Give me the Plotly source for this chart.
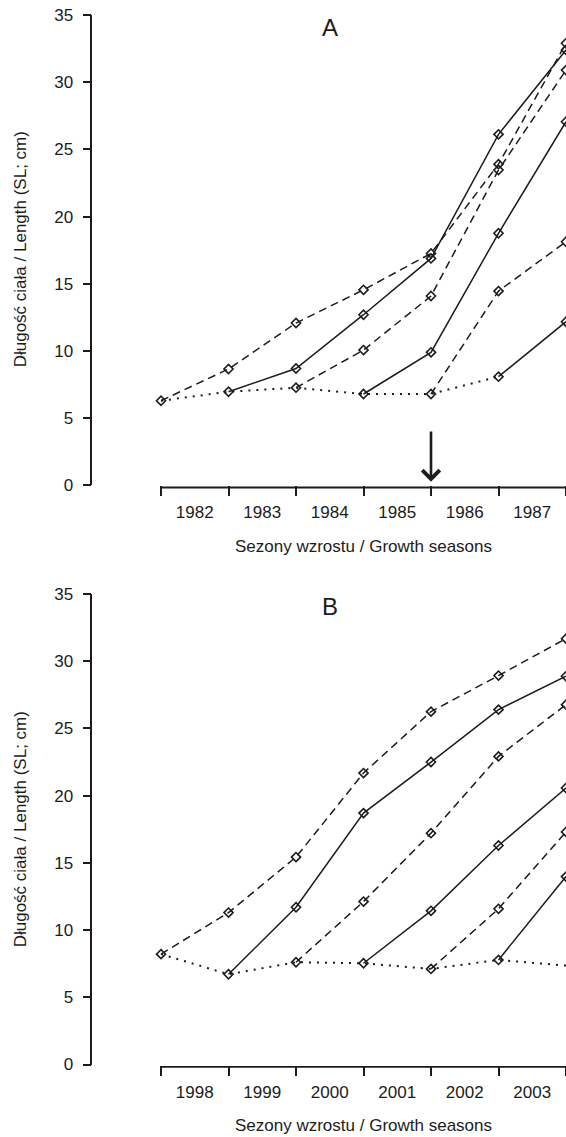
import plotly.graph_objects as go

# growth seasons: tick marks sit on the season boundaries, labels in between
season_ends = [0, 1, 2, 3, 4, 5, 6]
label_pos = [0.5, 1.5, 2.5, 3.5, 4.5, 5.5]
years_a = ["1982", "1983", "1984", "1985", "1986", "1987"]
years_b = ["1998", "1999", "2000", "2001", "2002", "2003"]
y_ticks = [0, 5, 10, 15, 20, 25, 30, 35]

# panel A - length (SL, cm) reached by each cohort at the end of each season
a_first_year = [6.3, 6.97, 7.27, 6.8, 6.8, 8.09]
a_cohort_1 = [6.3, 8.66, 12.08, 14.55, 17.26, 23.9, 32.9]
a_cohort_2 = [6.97, 8.7, 12.7, 16.89, 26.12, 32.4]
a_cohort_3 = [7.27, 10.07, 14.09, 23.47, 30.9]
a_cohort_4 = [6.8, 9.9, 18.76, 27.06]
a_cohort_5 = [6.8, 14.46, 18.13]
a_cohort_6 = [8.09, 12.18]

# panel B
b_first_year = [8.21, 6.71, 7.61, 7.53, 7.11, 7.78, 7.36]
b_cohort_1 = [8.21, 11.3, 15.43, 21.68, 26.25, 28.93, 31.68]
b_cohort_2 = [6.71, 11.7, 18.7, 22.5, 26.4, 28.88]
b_cohort_3 = [7.61, 12.12, 17.21, 22.92, 26.77]
b_cohort_4 = [7.53, 11.43, 16.29, 20.57]
b_cohort_5 = [7.11, 11.58, 17.3]
b_cohort_6 = [7.78, 13.98]

INK = "#1c1c1c"
FONT = "Liberation Sans, Arial, sans-serif"
W, H = 566, 1137


def add_panel(fig, first_year, cohorts, xa, ya):
    fig.add_trace(go.Scatter(
        x=season_ends[:len(first_year)], y=first_year, xaxis=xa, yaxis=ya,
        mode="lines", line=dict(color=INK, width=2, dash="2px,6px"),
        showlegend=False, hoverinfo="skip", cliponaxis=False))
    for i, values in enumerate(cohorts):
        dash = "8px,5px" if i % 2 == 0 else "solid"
        fig.add_trace(go.Scatter(
            x=season_ends[i:i + len(values)], y=values, xaxis=xa, yaxis=ya,
            mode="lines+markers",
            line=dict(color=INK, width=1.5, dash=dash),
            marker=dict(symbol="diamond-open", size=7, color=INK, line=dict(width=1.6)),
            showlegend=False, cliponaxis=False))


fig = go.Figure()
add_panel(fig, a_first_year,
          [a_cohort_1, a_cohort_2, a_cohort_3, a_cohort_4, a_cohort_5, a_cohort_6], "x", "y")
add_panel(fig, b_first_year,
          [b_cohort_1, b_cohort_2, b_cohort_3, b_cohort_4, b_cohort_5, b_cohort_6], "x2", "y2")

x_left = 92.3 / W
dom_a = [1 - 485.4 / H, 1 - 15 / H]
dom_b = [1 - 1064.5 / H, 1 - 594 / H]


def x_axis(anchor, labels):
    return dict(
        domain=[x_left, 1], range=[-1.018, 6.0], anchor=anchor,
        tickmode="array", tickvals=label_pos, ticktext=labels, ticks="",
        showline=False, showgrid=False, zeroline=False, automargin=False,
        ticklabelstandoff=15,
        tickfont=dict(family=FONT, size=17, color=INK),
        minor=dict(tickmode="array", tickvals=season_ends, ticks="outside",
                   ticklen=10, tickwidth=1.6, tickcolor=INK, showgrid=False),
    )


def y_axis(anchor, dom):
    return dict(
        domain=dom, range=[0, 35], anchor=anchor,
        tickmode="array", tickvals=y_ticks, ticks="outside", ticklen=8,
        tickwidth=1.6, tickcolor=INK, showline=True, linewidth=1.6, linecolor=INK,
        showgrid=False, zeroline=False, automargin=False, ticklabelstandoff=6,
        tickfont=dict(family=FONT, size=17, color=INK),
    )


fig.update_layout(
    width=W, height=H, margin=dict(l=0, r=0, t=0, b=0),
    plot_bgcolor="white", paper_bgcolor="white",
    xaxis=x_axis("y", years_a), yaxis=y_axis("x", dom_a),
    xaxis2=x_axis("y2", years_b), yaxis2=y_axis("x2", dom_b),
    font=dict(family=FONT, color=INK),
)

# x axis lines only run over the season boundaries, just below the zero level
for xr, line_px in (("x", 487.5), ("x2", 1066.8)):
    fig.add_shape(type="line", xref=xr, yref="paper", x0=season_ends[0], x1=season_ends[-1],
                  y0=1 - line_px / H, y1=1 - line_px / H, line=dict(color=INK, width=1.8))

ytitle = "Długość ciała / Length (SL; cm)"
xtitle = "Sezony wzrostu / Growth seasons"
for xr, yr, letter, ymid, xt_y in (("x", "y", "A", 249.5, 546), ("x2", "y2", "B", 829.5, 1125)):
    fig.add_annotation(text=letter, xref=xr, yref=yr, x=2.5, y=34.1, showarrow=False,
                       font=dict(family=FONT, size=24, color=INK))
    fig.add_annotation(text=ytitle, xref="paper", yref="paper", x=20.8 / W, y=1 - ymid / H,
                       xanchor="center", yanchor="middle", textangle=-90, showarrow=False,
                       font=dict(family=FONT, size=17, color=INK))
    fig.add_annotation(text=xtitle, xref=xr, yref="paper", x=3.0, y=1 - xt_y / H,
                       xanchor="center", yanchor="middle", showarrow=False,
                       font=dict(family=FONT, size=17, color=INK))

# arrow marking the 1985/1986 boundary in panel A
fig.add_annotation(x=4, y=0.28, ax=4, ay=4.12, xref="x", yref="y", axref="x", ayref="y",
                   text="", showarrow=True, arrowhead=4, arrowsize=1.3, arrowwidth=2.6,
                   arrowcolor=INK, standoff=0)

# the page's default body margin would shift the figure; drop it
fig.write_html("out.html", config={"displayModeBar": False},
               post_script="document.body.style.margin='0';"
               "document.body.style.overflow='hidden';")
